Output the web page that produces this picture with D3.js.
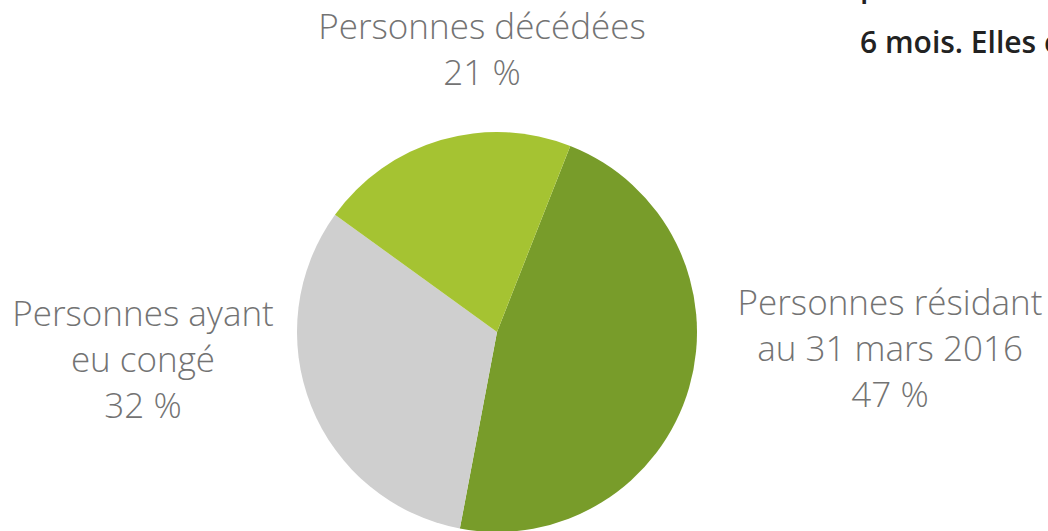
<!DOCTYPE html>
<html>
<head>
<meta charset="utf-8">
<script src="https://cdn.jsdelivr.net/npm/d3@7"></script>
<style>
  body { margin: 0; background: #fff; }
  svg { display: block; }
</style>
</head>
<body>
<div id="chart"></div>
<script>
// slice data, in drawing order (clockwise)
const categories = ['Personnes résidant au 31 mars 2016', 'Personnes ayant eu congé', 'Personnes décédées'];
const values = [47, 32, 21];
const colors = ['#789c2a', '#cfcfcf', '#a5c332'];
// label lines for each slice
const labelLines = [
  ['Personnes résidant', 'au 31 mars 2016', '47 %'],
  ['Personnes ayant', 'eu congé', '32 %'],
  ['Personnes décédées', '21 %']
];
const labelPos = [[890, 315], [143, 326], [482, 39]];

const width = 1048, height = 531;
const cx = 497, cy = 332, radius = 200;

const svg = d3.select('#chart').append('svg')
  .attr('width', width)
  .attr('height', height);

const startAngle = 21.5 * Math.PI / 180;
const pie = d3.pie().sort(null)
  .startAngle(startAngle)
  .endAngle(startAngle + 2 * Math.PI);
const arc = d3.arc().innerRadius(0).outerRadius(radius);

const data = categories.map((c, i) => ({ name: c, value: values[i], color: colors[i] }));

svg.append('g')
  .attr('transform', `translate(${cx},${cy})`)
  .selectAll('path')
  .data(pie.value(d => d.value)(data))
  .enter()
  .append('path')
  .attr('d', arc)
  .attr('fill', d => d.data.color);

// labels
const labels = svg.selectAll('text.label')
  .data(labelLines)
  .enter()
  .append('text')
  .attr('class', 'label')
  .attr('text-anchor', 'middle')
  .attr('font-family', '"Open Sans", sans-serif')
  .attr('font-weight', 300)
  .attr('font-size', '35px')
  .attr('fill', '#737373')
  .attr('transform', (d, i) => `translate(${labelPos[i][0]},${labelPos[i][1]})`);

labels.selectAll('tspan')
  .data(d => d)
  .enter()
  .append('tspan')
  .attr('x', 0)
  .attr('y', (d, i) => i * 46)
  .text(d => d);

// cut-off body text at top right
const bodyText = svg.append('g')
  .attr('font-family', '"Open Sans", sans-serif')
  .attr('font-weight', 600)
  .attr('font-size', '30px')
  .attr('fill', '#222');
bodyText.append('text').attr('x', 860).attr('y', -3).text('p');
bodyText.append('text').attr('x', 860).attr('y', 53).text('6 mois. Elles e');
</script>
</body>
</html>
